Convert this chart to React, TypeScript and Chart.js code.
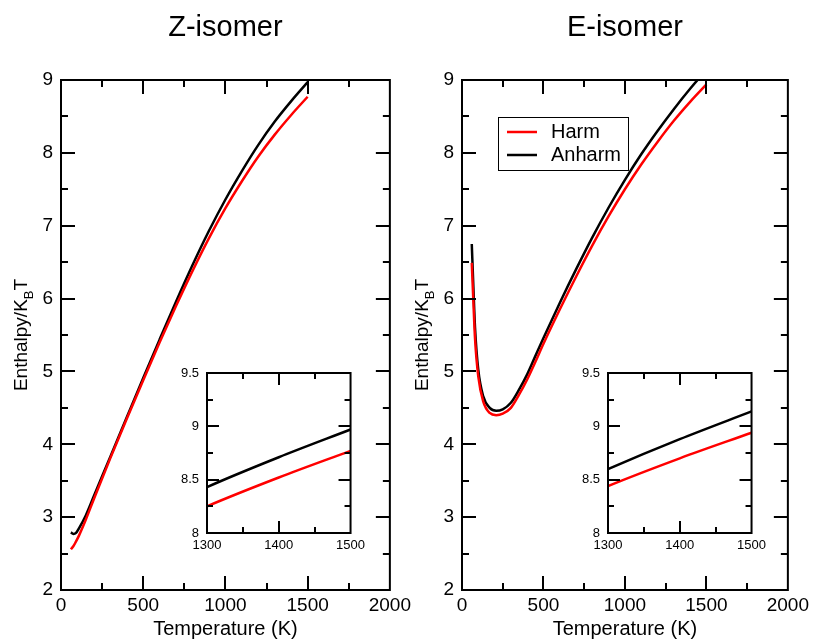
import React, { useEffect, useRef } from "react";
import { Chart, registerables } from "chart.js";

Chart.register(...registerables);

const FONT = '"Liberation Sans", Arial, Helvetica, sans-serif';

// ---- Data ----
const zTemp = [60, 75, 90, 110, 150, 200, 300, 400, 500, 600, 700, 800, 900, 1000, 1100, 1200, 1300, 1400, 1500];
const zHarm = [2.56, 2.6, 2.66, 2.75, 2.96, 3.25, 3.81, 4.35, 4.88, 5.4, 5.9, 6.38, 6.83, 7.24, 7.61, 7.95, 8.25, 8.52, 8.77];
const zAnharm = [2.79, 2.77, 2.78, 2.85, 3.02, 3.29, 3.83, 4.37, 4.91, 5.44, 5.96, 6.46, 6.93, 7.36, 7.75, 8.11, 8.43, 8.71, 8.97];

const eTemp = [60, 70, 80, 100, 130, 170, 210, 250, 300, 350, 400, 450, 500, 600, 700, 800, 900, 1000, 1100, 1200, 1300, 1400, 1500];
const eHarm = [6.49, 5.95, 5.45, 4.93, 4.59, 4.43, 4.4, 4.42, 4.5, 4.68, 4.89, 5.13, 5.38, 5.85, 6.3, 6.73, 7.13, 7.5, 7.84, 8.15, 8.44, 8.7, 8.94];
const eAnharm = [6.75, 6.15, 5.6, 5.02, 4.66, 4.5, 4.46, 4.48, 4.57, 4.75, 4.96, 5.21, 5.46, 5.94, 6.4, 6.84, 7.25, 7.63, 7.98, 8.3, 8.6, 8.88, 9.14];

const seriesLabels = ["Harm", "Anharm"];
const seriesColors = ["#ff0000", "#000000"];
const panelTitles = ["Z-isomer", "E-isomer"];
const xTitle = "Temperature (K)";

const mainX = { min: 0, max: 2000, major: 500, minor: 250 };
const mainY = { min: 2, max: 9, major: 1, minor: 0.5 };
const insetX = { min: 1300, max: 1500, major: 100, minor: 50 };
const insetY = { min: 8, max: 9.5, major: 0.5, minor: 0.25 };

// ---- Plugins ----
const frameTicks = {
  id: "frameTicks",
  afterDatasetsDraw(chart: any, _a: any, o: any) {
    if (!o || !o.xr) return;
    const { ctx, chartArea: a, scales } = chart;
    const xs = scales.x;
    const ys = scales.y;
    ctx.save();
    ctx.strokeStyle = "#000";
    ctx.lineWidth = o.lw;
    ctx.lineCap = "butt";
    const eps = 1e-6;
    const vals = (r: any, step: number) => {
      const out: number[] = [];
      for (let v = r.min + step; v < r.max - eps; v += step) out.push(v);
      return out;
    };
    const isMajor = (v: number, r: any) => Math.abs((v - r.min) / r.major - Math.round((v - r.min) / r.major)) < 1e-6;
    ctx.beginPath();
    for (const v of vals(o.xr, o.xr.minor)) {
      const len = isMajor(v, o.xr) ? o.major : o.minor;
      const px = Math.round(xs.getPixelForValue(v));
      ctx.moveTo(px, a.bottom);
      ctx.lineTo(px, a.bottom - len);
      ctx.moveTo(px, a.top);
      ctx.lineTo(px, a.top + len);
    }
    for (const v of vals(o.yr, o.yr.minor)) {
      const len = isMajor(v, o.yr) ? o.major : o.minor;
      const py = Math.round(ys.getPixelForValue(v));
      ctx.moveTo(a.left, py);
      ctx.lineTo(a.left + len, py);
      ctx.moveTo(a.right, py);
      ctx.lineTo(a.right - len, py);
    }
    ctx.stroke();
    ctx.strokeRect(a.left, a.top, a.right - a.left, a.bottom - a.top);
    ctx.restore();
  },
};

const panelTitle = {
  id: "panelTitle",
  afterDraw(chart: any, _a: any, o: any) {
    if (!o || !o.text) return;
    const { ctx, chartArea: a } = chart;
    ctx.save();
    ctx.fillStyle = "#000";
    ctx.font = `${o.size}px ${FONT}`;
    ctx.textAlign = "center";
    ctx.textBaseline = "alphabetic";
    ctx.fillText(o.text, (a.left + a.right) / 2, o.y);
    ctx.restore();
  },
};

const yTitleSub = {
  id: "yTitleSub",
  afterDraw(chart: any, _a: any, o: any) {
    if (!o || !o.main) return;
    const { ctx, chartArea: a } = chart;
    ctx.save();
    ctx.translate(a.left - o.offset, (a.top + a.bottom) / 2);
    ctx.rotate(-Math.PI / 2);
    ctx.fillStyle = "#000";
    ctx.textBaseline = "middle";
    ctx.textAlign = "left";
    const big = `${o.size}px ${FONT}`;
    const small = `${o.subSize}px ${FONT}`;
    ctx.font = big;
    const w1 = ctx.measureText(o.main).width;
    const w3 = ctx.measureText(o.after).width;
    ctx.font = small;
    const w2 = ctx.measureText(o.sub).width;
    let x = -(w1 + w2 + w3) / 2;
    ctx.font = big;
    ctx.fillText(o.main, x, 0);
    x += w1;
    ctx.font = small;
    ctx.fillText(o.sub, x, o.subShift);
    x += w2;
    ctx.font = big;
    ctx.fillText(o.after, x, 0);
    ctx.restore();
  },
};

const boxLegend = {
  id: "boxLegend",
  afterDraw(chart: any, _a: any, o: any) {
    if (!o || !o.show) return;
    const { ctx, chartArea: a } = chart;
    const x = a.left + o.dx;
    const y = a.top + o.dy;
    ctx.save();
    ctx.fillStyle = "#fff";
    ctx.fillRect(x, y, o.w, o.h);
    ctx.strokeStyle = "#000";
    ctx.lineWidth = 1;
    ctx.strokeRect(x + 0.5, y + 0.5, o.w, o.h);
    chart.data.datasets.forEach((ds: any, i: number) => {
      const ry = y + o.row0 + i * o.gap;
      ctx.strokeStyle = ds.borderColor;
      ctx.lineWidth = 2.5;
      ctx.beginPath();
      ctx.moveTo(x + 9, ry);
      ctx.lineTo(x + 39, ry);
      ctx.stroke();
      ctx.fillStyle = "#000";
      ctx.font = `${o.size}px ${FONT}`;
      ctx.textBaseline = "middle";
      ctx.textAlign = "left";
      ctx.fillText(ds.label, x + 53, ry);
    });
    ctx.restore();
  },
};

function makeDatasets(temp: number[], harm: number[], anharm: number[]) {
  return [harm, anharm].map((vals, i) => ({
    label: seriesLabels[i],
    data: temp.map((t, k) => ({ x: t, y: vals[k] })),
    borderColor: seriesColors[i],
    backgroundColor: seriesColors[i],
    borderWidth: 2.5,
    pointRadius: 0,
    showLine: true,
    fill: false,
    cubicInterpolationMode: "monotone" as const,
  }));
}

const fmt = (v: any) => String(v);

function mainConfig(idx: number, temp: number[], harm: number[], anharm: number[], yWidth: number, padRight: number, legend: boolean) {
  return {
    type: "scatter" as const,
    data: { datasets: makeDatasets(temp, harm, anharm) },
    plugins: [frameTicks, panelTitle, yTitleSub, boxLegend],
    options: {
      animation: false,
      responsive: false,
      events: [],
      layout: { padding: { top: 80, right: padRight, left: 0, bottom: 0 } },
      scales: {
        x: {
          type: "linear",
          min: mainX.min,
          max: mainX.max,
          grid: { display: false, drawTicks: false },
          border: { display: false },
          ticks: { stepSize: mainX.major, padding: 4, color: "#000", font: { family: FONT, size: 19 }, callback: fmt, maxRotation: 0, autoSkip: false },
          title: { display: true, text: xTitle, color: "#000", font: { family: FONT, size: 20 }, padding: 0 },
          afterFit: (s: any) => { s.height = 51; },
        },
        y: {
          type: "linear",
          min: mainY.min,
          max: mainY.max,
          grid: { display: false, drawTicks: false },
          border: { display: false },
          ticks: { stepSize: mainY.major, padding: 8, color: "#000", font: { family: FONT, size: 19 }, callback: fmt },
          afterFit: (s: any) => { s.width = yWidth; },
        },
      },
      plugins: {
        legend: { display: false },
        tooltip: { enabled: false },
        frameTicks: { xr: mainX, yr: mainY, lw: 2, major: 14, minor: 7 },
        panelTitle: { text: panelTitles[idx], size: 29, y: 36 },
        yTitleSub: { main: "Enthalpy/K", sub: "B", after: "T", size: 19, subSize: 13, subShift: 7, offset: 39 },
        boxLegend: { show: legend, dx: 36, dy: 37, w: 130, h: 53, row0: 15, gap: 23, size: 20 },
      },
    },
  };
}

function insetConfig(temp: number[], harm: number[], anharm: number[]) {
  return {
    type: "scatter" as const,
    data: { datasets: makeDatasets(temp, harm, anharm) },
    plugins: [frameTicks],
    options: {
      animation: false,
      responsive: false,
      events: [],
      layout: { padding: { top: 18, right: 18, left: 0, bottom: 0 } },
      scales: {
        x: {
          type: "linear",
          min: insetX.min,
          max: insetX.max,
          grid: { display: false, drawTicks: false },
          border: { display: false },
          ticks: { stepSize: insetX.major, padding: 5, color: "#000", font: { family: FONT, size: 13 }, callback: fmt, maxRotation: 0, autoSkip: false },
          afterFit: (s: any) => { s.height = 22; },
        },
        y: {
          type: "linear",
          min: insetY.min,
          max: insetY.max,
          grid: { display: false, drawTicks: false },
          border: { display: false },
          ticks: { stepSize: insetY.major, padding: 8, color: "#000", font: { family: FONT, size: 13 }, callback: fmt },
          afterFit: (s: any) => { s.width = 47; },
        },
      },
      plugins: {
        legend: { display: false },
        tooltip: { enabled: false },
        frameTicks: { xr: insetX, yr: insetY, lw: 2, major: 12, minor: 6 },
      },
    },
  };
}

function ChartBox({ config, left, top, width, height }: any) {
  const ref = useRef<HTMLCanvasElement>(null);
  useEffect(() => {
    const chart = new Chart(ref.current as HTMLCanvasElement, config as any);
    return () => chart.destroy();
  }, []);
  return (
    <div style={{ position: "absolute", left, top, width, height }}>
      <canvas ref={ref} width={width} height={height} style={{ display: "block", width, height }} />
    </div>
  );
}

export default function App() {
  return (
    <div style={{ position: "absolute", left: 0, top: 0, width: 813, height: 641, background: "#fff", overflow: "hidden" }}>
      <ChartBox config={mainConfig(0, zTemp, zHarm, zAnharm, 61, 25, false)} left={0} top={0} width={415} height={641} />
      <ChartBox config={mainConfig(1, eTemp, eHarm, eAnharm, 62, 23, true)} left={400} top={0} width={413} height={641} />
      <ChartBox config={insetConfig(zTemp, zHarm, zAnharm)} left={160} top={355} width={210} height={200} />
      <ChartBox config={insetConfig(eTemp, eHarm, eAnharm)} left={561} top={355} width={210} height={200} />
    </div>
  );
}
